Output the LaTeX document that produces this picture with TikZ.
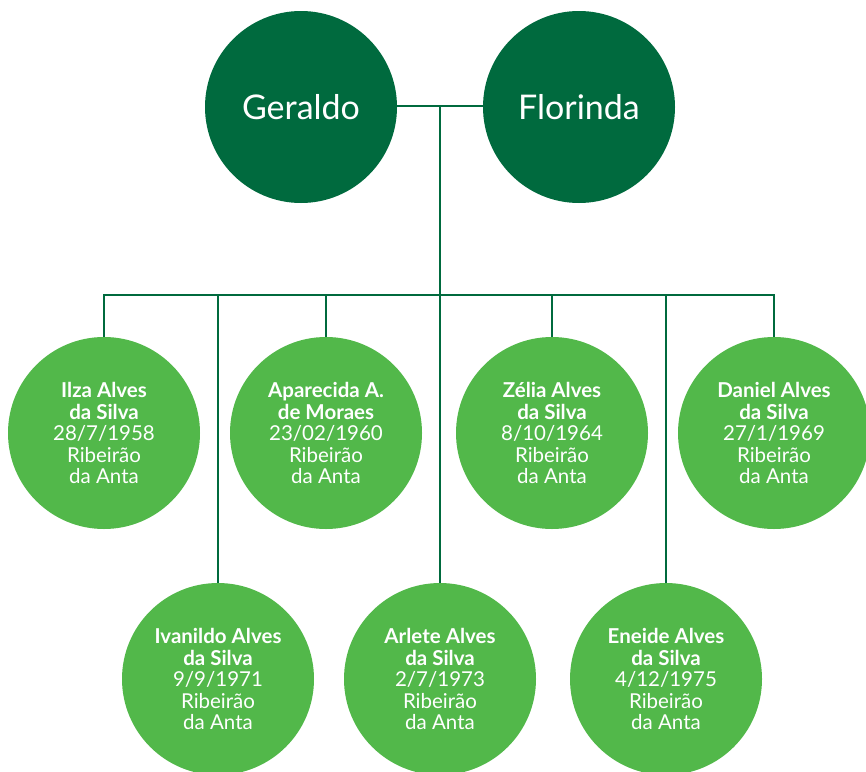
\documentclass[tikz,border=0pt]{standalone}
\usepackage{fontspec}
\setmainfont{Lato}
\usepackage{tikz}
\definecolor{darkgreen}{RGB}{0,106,62}
\definecolor{leafgreen}{RGB}{82,184,74}

\begin{document}
\begin{tikzpicture}[x=1pt, y=-1pt,
	parent/.style={circle, fill=darkgreen, minimum size=192pt, inner sep=0pt,
		text=white, font=\fontsize{34}{36}\selectfont},
	child/.style={circle, fill=leafgreen, minimum size=192pt, inner sep=0pt,
		text=white, align=center, font=\fontsize{20.5}{21.5}\selectfont},
	link/.style={draw=darkgreen, line width=2.4pt}]
	%\draw [help lines] (0,0) grid (866,771);
	\useasboundingbox (0,0) rectangle (866,771);
	\node [parent] (geraldo) at (301,107) {Geraldo};
	\node [parent] (florinda) at (579,107) {Florinda};
	\coordinate (mid) at (440,106);
	\coordinate (bar) at (440,295);
	\node [child] (ilza) at (104,433) {\textbf{Ilza Alves}\\\textbf{da Silva}\\28/7/1958\\Ribeirão\\da Anta};
	\node [child] (aparecida) at (326,433) {\textbf{Aparecida A.}\\\textbf{de Moraes}\\23/02/1960\\Ribeirão\\da Anta};
	\node [child] (zelia) at (552,433) {\textbf{Zélia Alves}\\\textbf{da Silva}\\8/10/1964\\Ribeirão\\da Anta};
	\node [child] (daniel) at (774,433) {\textbf{Daniel Alves}\\\textbf{da Silva}\\27/1/1969\\Ribeirão\\da Anta};
	\node [child] (ivanildo) at (218,679) {\textbf{Ivanildo Alves}\\\textbf{da Silva}\\9/9/1971\\Ribeirão\\da Anta};
	\node [child] (arlete) at (440,679) {\textbf{Arlete Alves}\\\textbf{da Silva}\\2/7/1973\\Ribeirão\\da Anta};
	\node [child] (eneide) at (666,679) {\textbf{Eneide Alves}\\\textbf{da Silva}\\4/12/1975\\Ribeirão\\da Anta};
	\draw [link] (geraldo.east |- mid) -- (florinda.west |- mid);
	\draw [link] (mid) -- (bar);
	\draw [link] (ilza.north) -- (ilza.north |- bar) -- (daniel.north |- bar) -- (daniel.north);
	\draw [link] (aparecida.north) -- (aparecida.north |- bar);
	\draw [link] (zelia.north) -- (zelia.north |- bar);
	\draw [link] (ivanildo.north) -- (ivanildo.north |- bar);
	\draw [link] (arlete.north) -- (bar);
	\draw [link] (eneide.north) -- (eneide.north |- bar);
\end{tikzpicture}
\end{document}
